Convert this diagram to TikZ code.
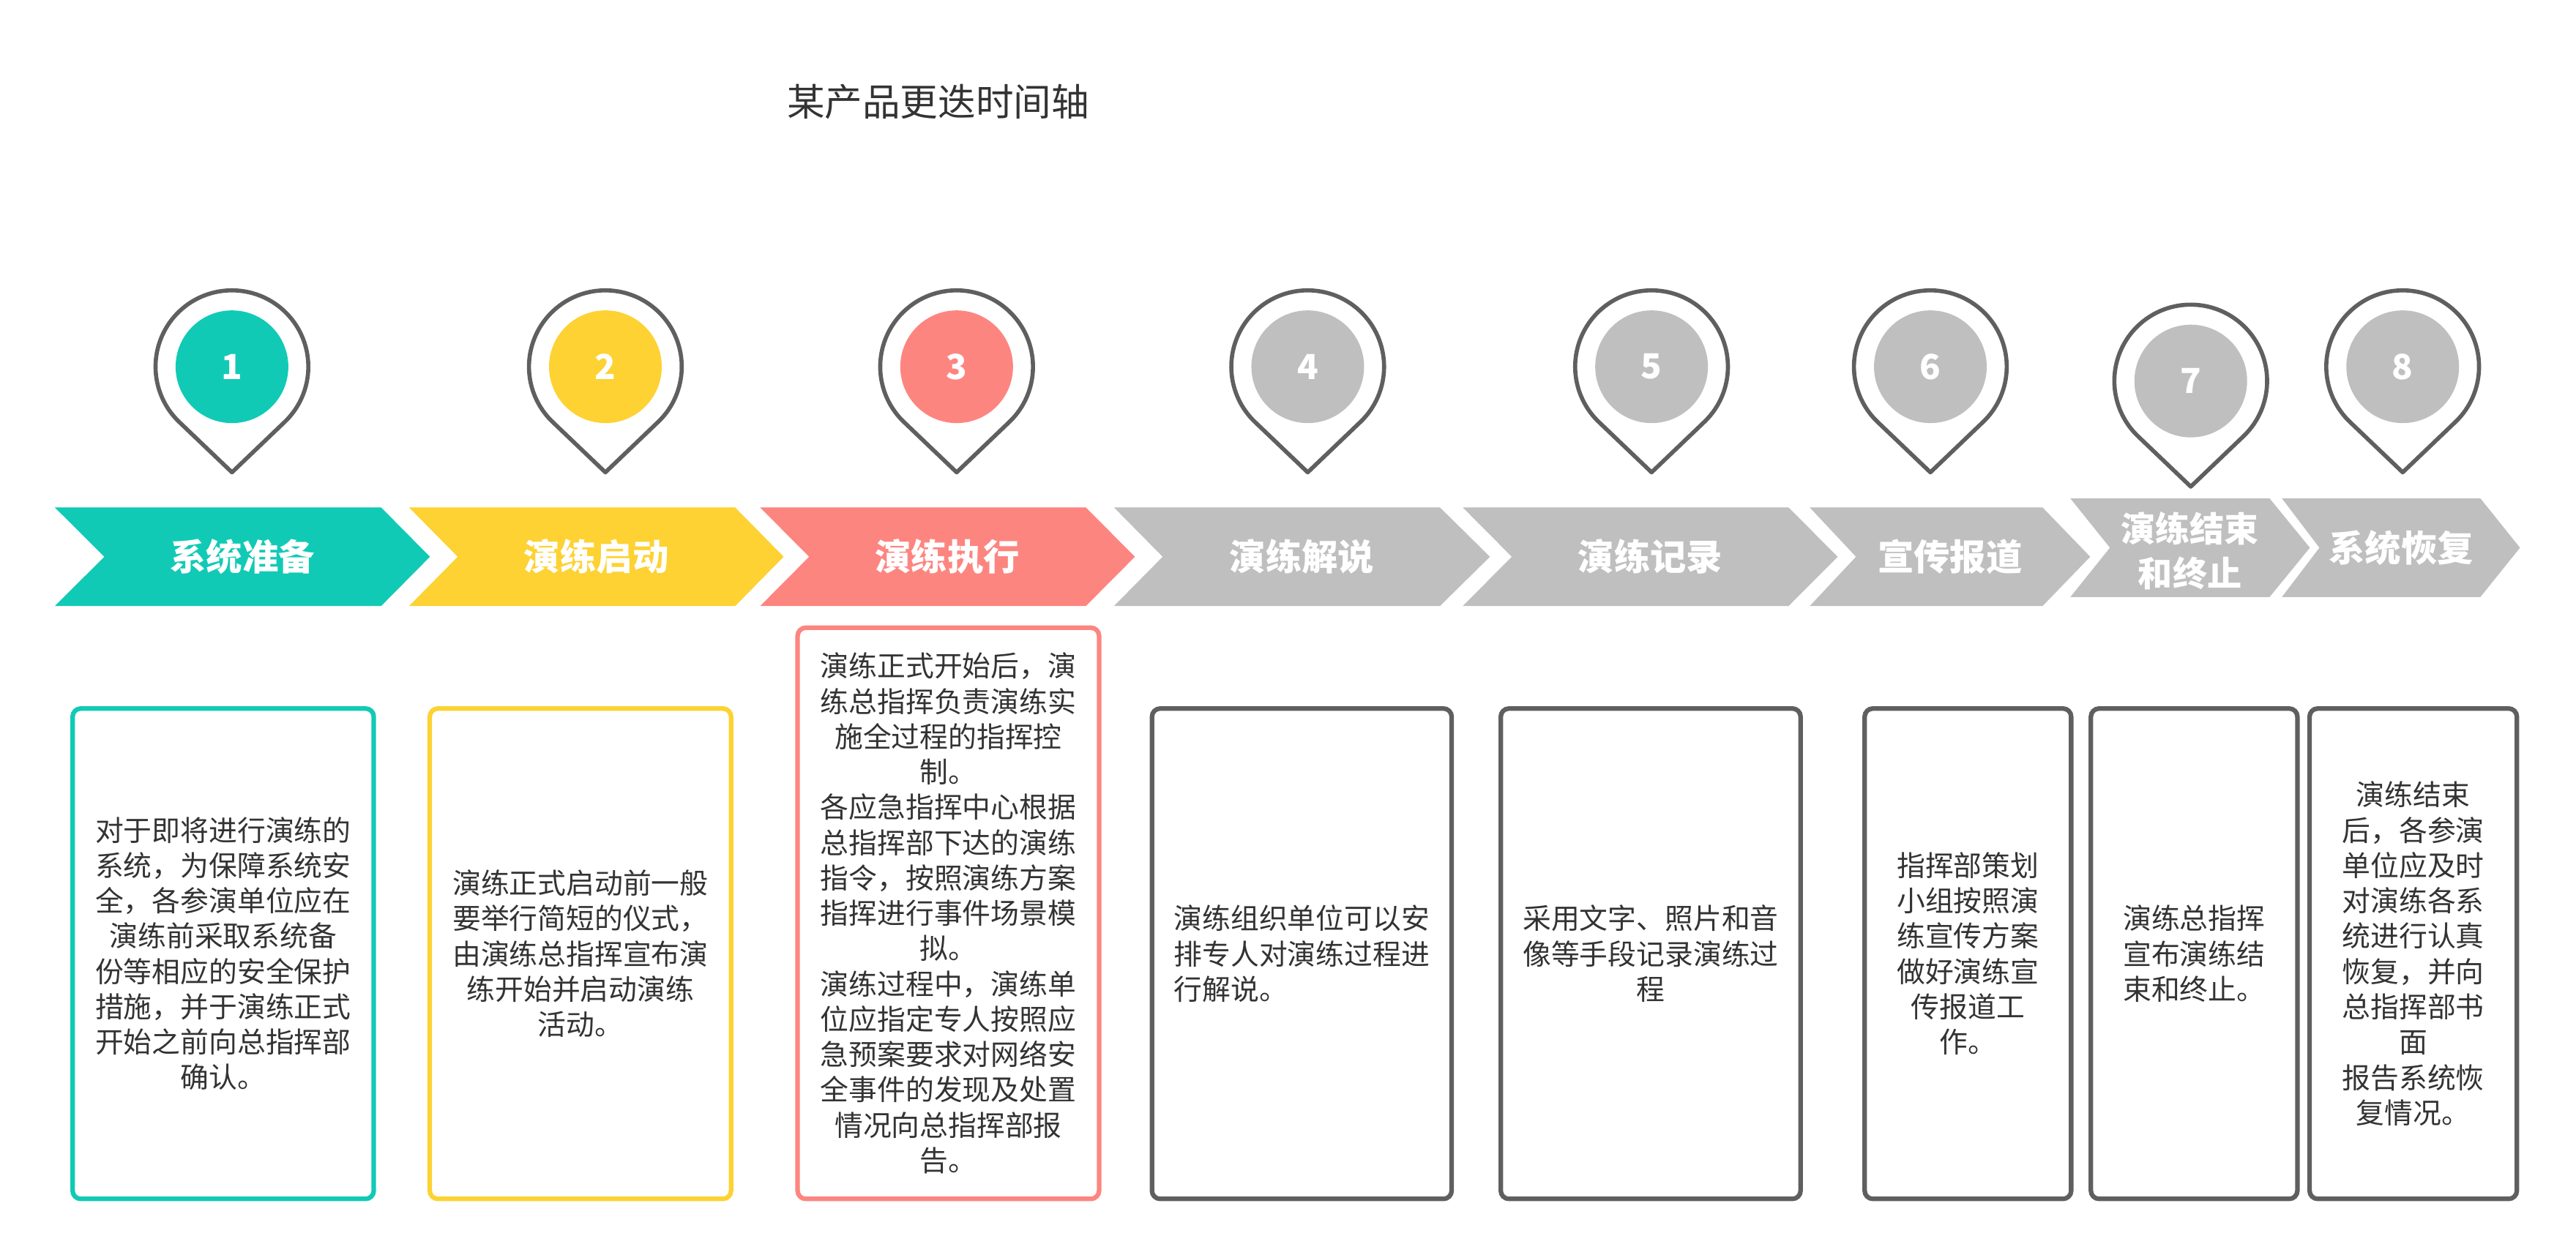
\documentclass[tikz,border=0pt]{standalone}
\usepackage{fontspec}
\setmainfont{Noto Sans CJK SC}
\definecolor{cteal}{HTML}{11CAB6}
\definecolor{cyel}{HTML}{FDD232}
\definecolor{csal}{HTML}{FD8580}
\definecolor{cgray}{HTML}{BFBFBF}
\definecolor{cline}{HTML}{5F5F5F}
\definecolor{ctext}{HTML}{333333}
\newcommand\mypin[5]{%
  \begin{scope}[shift={(#1,#2)}]
    \draw[pinline] (0,64.3) -- (32.1,33.6) arc[start angle=46.3, end angle=-226.3, radius=46.5] -- cycle;
    \fill[#3] (0,0) circle[radius=34.3];
    \node[numlbl] (#5) at (0,0) {#4};
  \end{scope}}
\begin{document}
\begin{tikzpicture}[x=1pt,y=-1pt,
  pinline/.style={draw=cline, line width=2.5pt, fill=white, line join=round},
  chevtext/.style={text=white, font=\bfseries\fontsize{22}{27}\selectfont, align=center, inner sep=0},
  numlbl/.style={text=white, font=\bfseries\fontsize{21}{21}\selectfont, inner sep=0},
  box/.style={draw, line width=2.8pt, rounded corners=5pt, inner sep=0, text=ctext, align=center, font=\fontsize{17.3}{21.5}\selectfont},
]
\useasboundingbox (0,0) rectangle (1568,764);

\node[text=ctext, font=\fontsize{23}{23}\selectfont, inner sep=0] (title) at (571,62) {某产品更迭时间轴};

% chevrons
\fill[cteal] (33.4,309) -- (232,309) -- (261.7,339) -- (232,369) -- (33.4,369) -- (63.5,339) -- cycle;
\fill[cyel] (249,309) -- (447.5,309) -- (477,339) -- (447.5,369) -- (249,369) -- (278.6,339) -- cycle;
\fill[csal] (462.7,309) -- (661,309) -- (690.8,339) -- (661,369) -- (462.7,369) -- (492.5,339) -- cycle;
\fill[cgray] (678.1,309) -- (876.5,309) -- (906.9,339) -- (876.5,369) -- (678.1,369) -- (707.7,339) -- cycle;
\fill[cgray] (890.4,309) -- (1088.7,309) -- (1118.6,339) -- (1088.7,369) -- (890.4,369) -- (920.2,339) -- cycle;
\fill[cgray] (1101.6,309) -- (1243.3,309) -- (1272.3,339) -- (1243.3,369) -- (1101.6,369) -- (1129.7,339) -- cycle;
\fill[cgray] (1260.2,303.5) -- (1381.5,303.5) -- (1406,333.5) -- (1381.5,363.5) -- (1260.2,363.5) -- (1284.3,333.5) -- cycle;
\fill[cgray] (1389,303.5) -- (1509.8,303.5) -- (1533.9,333.5) -- (1509.8,363.5) -- (1389,363.5) -- (1411.8,333.5) -- cycle;

\node[chevtext] (c1) at (147.5,339) {系统准备};
\node[chevtext] (c2) at (363,339) {演练启动};
\node[chevtext] (c3) at (576.7,339) {演练执行};
\node[chevtext] (c4) at (792.5,339) {演练解说};
\node[chevtext] (c5) at (1004.5,339) {演练记录};
\node[chevtext] (c6) at (1187,339) {宣传报道};
\node[chevtext, font=\bfseries\fontsize{21}{27}\selectfont] (c7) at (1333,335.5) {演练结束\\和终止};
\node[chevtext] (c8) at (1461.5,333.5) {系统恢复};

% pins
\mypin{141.2}{223.3}{cteal}{1}{p1}
\mypin{368.5}{223.3}{cyel}{2}{p2}
\mypin{582.3}{223.3}{csal}{3}{p3}
\mypin{796}{223.3}{cgray}{4}{p4}
\mypin{1005.3}{223.3}{cgray}{5}{p5}
\mypin{1175}{223.3}{cgray}{6}{p6}
\mypin{1333.5}{232}{cgray}{7}{p7}
\mypin{1462.5}{223.3}{cgray}{8}{p8}

% boxes
\node[box, draw=cteal, minimum width=183.3, minimum height=298.6] (b1) at (135.85,580.7)
  {对于即将进行演练的\\系统，为保障系统安\\全，各参演单位应在\\演练前采取系统备\\份等相应的安全保护\\措施，并于演练正式\\开始之前向总指挥部\\确认。};
\node[box, draw=cyel, minimum width=183.4, minimum height=298.6] (b2) at (353.3,580.7)
  {演练正式启动前一般\\要举行简短的仪式，\\由演练总指挥宣布演\\练开始并启动演练\\活动。};
\node[box, draw=csal, minimum width=183.5, minimum height=347.8] (b3) at (577.25,556.1)
  {演练正式开始后，演\\练总指挥负责演练实\\施全过程的指挥控\\制。\\各应急指挥中心根据\\总指挥部下达的演练\\指令，按照演练方案\\指挥进行事件场景模\\拟。\\演练过程中，演练单\\位应指定专人按照应\\急预案要求对网络安\\全事件的发现及处置\\情况向总指挥部报\\告。};
\node[box, draw=cline, align=left, minimum width=182.4, minimum height=298.6] (b4) at (792.4,580.7)
  {演练组织单位可以安\\排专人对演练过程进\\行解说。};
\node[box, draw=cline, minimum width=182.5, minimum height=298.6] (b5) at (1004.75,580.7)
  {采用文字、照片和音\\像等手段记录演练过\\程};
\node[box, draw=cline, minimum width=125.7, minimum height=298.6] (b6) at (1197.85,580.7)
  {指挥部策划\\小组按照演\\练宣传方案\\做好演练宣\\传报道工\\作。};
\node[box, draw=cline, minimum width=125.7, minimum height=298.6] (b7) at (1335.55,580.7)
  {演练总指挥\\宣布演练结\\束和终止。};
\node[box, draw=cline, minimum width=126.2, minimum height=298.6] (b8) at (1468.9,580.7)
  {演练结束\\后，各参演\\单位应及时\\对演练各系\\统进行认真\\恢复，并向\\总指挥部书\\面\\报告系统恢\\复情况。};
\end{tikzpicture}
\end{document}
